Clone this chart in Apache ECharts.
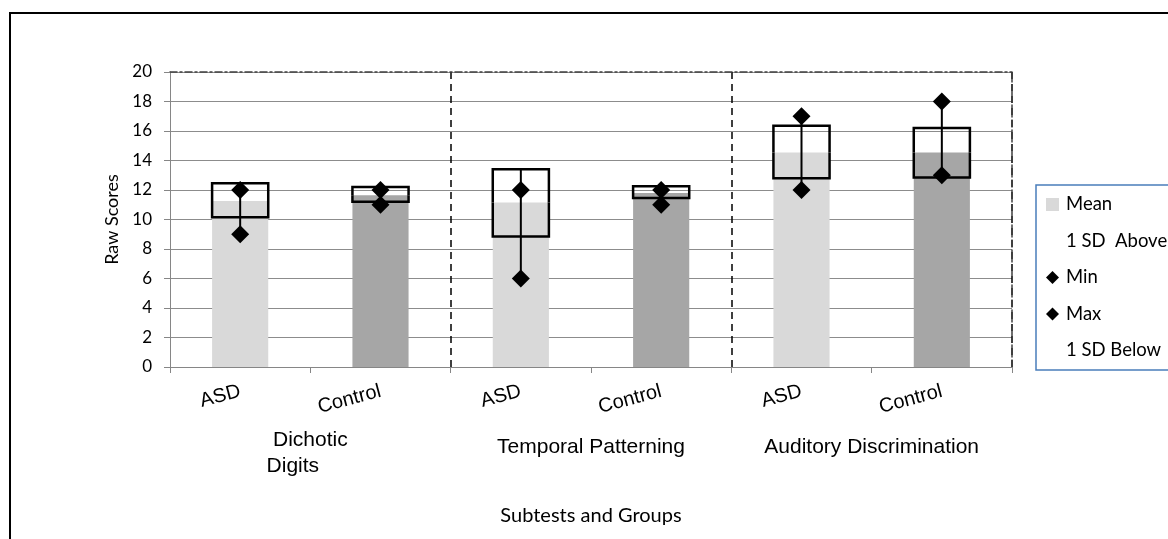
<!DOCTYPE html>
<html>
<head>
<meta charset="utf-8">
<script src="https://cdn.jsdelivr.net/npm/echarts@6/dist/echarts.min.js"></script>
<style>
html,body{margin:0;padding:0;background:#fff;}
#chart{width:1168px;height:539px;}
</style>
</head>
<body>
<div id="chart"></div>
<script>
const categories = ['ASD', 'Control', 'ASD', 'Control', 'ASD', 'Control'];
const groupLabels = ['Dichotic\nDigits      ', 'Temporal Patterning', 'Auditory Discrimination'];
const meanVals    = [11.25, 11.65, 11.15, 11.8, 14.55, 14.55];
const sdAboveVals = [12.45, 12.2, 13.4, 12.25, 16.35, 16.2];
const sdBelowVals = [10.15, 11.2, 8.85, 11.45, 12.8, 12.85];
const minVals     = [9, 11, 6, 11, 12, 13];
const maxVals     = [12, 12, 12, 12, 17, 18];
const yMin = 0, yMax = 20, yStep = 2;

const groupColor = { 'ASD': '#d9d9d9', 'Control': '#a6a6a6' };
const BAR_FRAC = 0.4;
const calibri = 'Lato, "Noto Sans", sans-serif';
const arial = '"Liberation Sans", Arial, sans-serif';

const meanData = meanVals.map((v, i) => ({ value: v, itemStyle: { color: groupColor[categories[i]] } }));
const aboveData = sdAboveVals.map((v, i) => [i, meanVals[i], v]);
const belowData = sdBelowVals.map((v, i) => [i, meanVals[i], v]);
const rangeData = categories.map((c, i) => {
  const vals = [minVals[i], maxVals[i], sdAboveVals[i], sdBelowVals[i]];
  return [i, Math.min.apply(null, vals), Math.max.apply(null, vals)];
});
const groupAxisData = groupLabels.map(g => ({
  value: g,
  textStyle: { padding: g.indexOf('\n') >= 0 ? [0, 0, 0, 0] : [7, 0, 0, 0] }
}));

function halfBoxRender(params, api) {
  const i = api.value(0);
  const pMean = api.coord([i, api.value(1)]);
  const pEnd = api.coord([i, api.value(2)]);
  const hw = api.size([1, 0])[0] * BAR_FRAC / 2;
  return {
    type: 'polyline',
    shape: { points: [[pMean[0] - hw, pMean[1]], [pMean[0] - hw, pEnd[1]], [pMean[0] + hw, pEnd[1]], [pMean[0] + hw, pMean[1]]] },
    style: { stroke: '#000', lineWidth: 2.5, fill: null }
  };
}
function rangeRender(params, api) {
  const i = api.value(0);
  const a = api.coord([i, api.value(1)]);
  const b = api.coord([i, api.value(2)]);
  return {
    type: 'line',
    shape: { x1: a[0], y1: a[1], x2: b[0], y2: b[1] },
    style: { stroke: '#000', lineWidth: 2 }
  };
}

const chart = echarts.init(document.getElementById('chart'), null, { renderer: 'canvas' });
chart.setOption({
  animation: false,
  backgroundColor: '#fff',
  graphic: [{
    type: 'rect', z: -10, silent: true,
    shape: { x: 10, y: 13, width: 1300, height: 700 },
    style: { fill: null, stroke: '#000', lineWidth: 2 }
  }],
  grid: { left: 170, right: 156, top: 72, bottom: 172 },
  legend: {
    orient: 'vertical',
    left: 1036, top: 185,
    padding: [10, 14, 10, 10],
    itemWidth: 13, itemHeight: 13, itemGap: 17.5,
    backgroundColor: '#fff',
    borderColor: '#4a7ebb', borderWidth: 1.5, borderRadius: 0,
    textStyle: { fontFamily: calibri, fontSize: 18.5, color: '#000', padding: [0, 0, 0, 2] },
    data: [
      { name: 'Mean', icon: 'rect', itemStyle: { color: '#d9d9d9', opacity: 1 } },
      { name: '1 SD  Above', icon: 'rect', itemStyle: { color: 'rgba(0,0,0,0)', borderWidth: 0, opacity: 0 } },
      { name: 'Min', icon: 'diamond', itemStyle: { color: '#000', opacity: 1 } },
      { name: 'Max', icon: 'diamond', itemStyle: { color: '#000', opacity: 1 } },
      { name: '1 SD Below', icon: 'rect', itemStyle: { color: 'rgba(0,0,0,0)', borderWidth: 0, opacity: 0 } }
    ]
  },
  xAxis: [{
    type: 'category',
    data: categories,
    name: 'Subtests and Groups',
    nameLocation: 'middle',
    nameGap: 139,
    nameTextStyle: { fontFamily: calibri, fontSize: 20, color: '#000' },
    axisLine: { lineStyle: { color: '#868686', width: 1 } },
    axisTick: { show: true, length: 6, lineStyle: { color: '#868686' } },
    axisLabel: { rotate: 15, margin: 24, fontFamily: arial, fontSize: 20, color: '#000' },
    splitLine: {
      show: true,
      interval: function (idx) { return idx === 2 || idx === 4; },
      lineStyle: { color: '#000', type: [7, 5], width: 1.5 }
    }
  }, {
    type: 'category',
    data: groupAxisData,
    position: 'bottom',
    axisLine: { show: false },
    axisTick: { show: false },
    axisLabel: { margin: 60, fontFamily: arial, fontSize: 21, color: '#000', lineHeight: 26 },
    splitLine: { show: false }
  }, {
    type: 'category',
    data: categories,
    position: 'top',
    axisLine: { show: true, lineStyle: { color: '#404040', width: 1.5, type: [7, 3, 2, 3] } },
    axisTick: { show: false },
    axisLabel: { show: false },
    splitLine: { show: false }
  }],
  yAxis: [{
    type: 'value',
    min: yMin, max: yMax, interval: yStep,
    name: 'Raw Scores',
    nameLocation: 'middle',
    nameGap: 48,
    nameTextStyle: { fontFamily: calibri, fontSize: 18, color: '#000' },
    axisLine: { show: true, lineStyle: { color: '#868686', width: 1 } },
    axisTick: { show: true, length: 6, lineStyle: { color: '#868686' } },
    axisLabel: { margin: 18, fontFamily: calibri, fontSize: 17, color: '#000' },
    splitLine: { show: true, lineStyle: { color: '#8c8c8c', width: 1 } }
  }, {
    type: 'value',
    min: yMin, max: yMax, interval: yStep,
    position: 'right',
    axisLine: { show: true, lineStyle: { color: '#404040', width: 1.5, type: [7, 3, 2, 3] } },
    axisTick: { show: false },
    axisLabel: { show: false },
    splitLine: { show: false }
  }],
  series: [{
    name: 'Mean',
    type: 'bar',
    barWidth: (BAR_FRAC * 100) + '%',
    itemStyle: { color: '#d9d9d9' },
    data: meanData,
    z: 2
  }, {
    name: 'HighLow',
    type: 'custom',
    renderItem: rangeRender,
    data: rangeData,
    encode: { x: 0, y: [1, 2] },
    z: 3
  }, {
    name: '1 SD  Above',
    type: 'custom',
    renderItem: halfBoxRender,
    data: aboveData,
    encode: { x: 0, y: [1, 2] },
    z: 4
  }, {
    name: '1 SD Below',
    type: 'custom',
    renderItem: halfBoxRender,
    data: belowData,
    encode: { x: 0, y: [1, 2] },
    z: 4
  }, {
    name: 'Min',
    type: 'scatter',
    symbol: 'diamond',
    symbolSize: 18,
    itemStyle: { color: '#000', opacity: 1 },
    data: minVals,
    z: 5
  }, {
    name: 'Max',
    type: 'scatter',
    symbol: 'diamond',
    symbolSize: 18,
    itemStyle: { color: '#000', opacity: 1 },
    data: maxVals,
    z: 5
  }]
});
</script>
</body>
</html>
